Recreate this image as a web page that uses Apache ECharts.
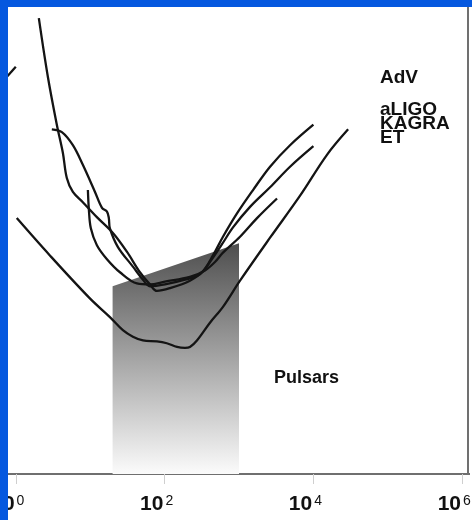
<!DOCTYPE html>
<html>
<head>
<meta charset="utf-8">
<script src="https://cdn.jsdelivr.net/npm/echarts@6/dist/echarts.min.js"></script>
<style>
  html, body { margin: 0; padding: 0; background: #ffffff; }
  #chart { width: 472px; height: 520px; }
</style>
</head>
<body>
<div id="chart"></div>
<script>
// Detector noise curves: frequency in Hz, strain as log10(h)
const advFreq   = [2.04, 2.70, 3.56, 4.29, 4.85, 5.85, 7.96, 12.3, 20.2, 31.1, 46.6, 63.5, 78.9, 118, 219, 328, 447, 609, 940, 1543, 2614, 4853, 10000];
const advLogH   = [-20.12, -20.75, -21.26, -21.56, -21.83, -21.98, -22.09, -22.25, -22.42, -22.62, -22.84, -22.97, -23.04, -23.01, -22.93, -22.83, -22.66, -22.46, -22.21, -21.96, -21.71, -21.48, -21.26];

const aligoFreq = [3.05, 4.16, 5.85, 7.96, 11.6, 14.4, 16.8, 17.8, 18.4, 23.6, 37.5, 51.2, 63.5, 101, 188, 299, 407, 591, 830, 1406, 2614, 4853, 10000];
const aligoLogH = [-21.31, -21.34, -21.48, -21.69, -21.98, -22.15, -22.19, -22.26, -22.37, -22.57, -22.78, -22.92, -22.99, -22.97, -22.92, -22.86, -22.73, -22.54, -22.36, -22.14, -21.93, -21.71, -21.49];

const kagraFreq = [9.31, 9.60, 10.2, 12.3, 16.8, 25.1, 42.5, 63.5, 101, 219, 349, 475, 609, 1032, 1747, 3245];
const kagraLogH = [-21.96, -22.17, -22.37, -22.55, -22.70, -22.84, -22.96, -22.97, -22.94, -22.89, -22.82, -22.73, -22.63, -22.46, -22.26, -22.05];

const etFreq    = [1.03, 2.87, 9.90, 18.4, 27.5, 37.5, 51.2, 78.9, 107, 147, 188, 219, 272, 407, 609, 1032, 2614, 6620, 15300, 29300];
const etLogH    = [-22.26, -22.66, -23.12, -23.32, -23.46, -23.53, -23.57, -23.58, -23.60, -23.64, -23.65, -23.64, -23.57, -23.38, -23.21, -22.93, -22.47, -22.02, -21.58, -21.31];

// Short low-frequency segment entering at the left edge
const edgeFreq  = [0.734, 1.0];
const edgeLogH  = [-20.76, -20.64];

// Upper bound of the known-pulsar region
const pulsarFreq = [20, 1000];
const pulsarLogH = [-22.99, -22.53];

// Frequency axis: decades from 10^-2 to 10^8, labelled every two decades
const freqMin = 0.01;
const freqMax = 1e8;
const decadeStep = 2;

const zip = (fs, hs) => fs.map((f, i) => [f, hs[i]]);

const chart = echarts.init(document.getElementById('chart'), null, { renderer: 'canvas' });

const curveStyle = { color: '#141414', width: 2.3 };
const curve = (name, fs, hs) => ({
  name: name,
  type: 'line',
  data: zip(fs, hs),
  symbol: 'none',
  smooth: 0.35,
  lineStyle: curveStyle,
  silent: true,
  z: 3
});

chart.setOption({
  animation: false,
  backgroundColor: '#ffffff',
  grid: { left: -133, right: -139, top: 7, bottom: 46, outerBoundsMode: 'none' },
  xAxis: {
    type: 'log',
    logBase: 10,
    min: freqMin,
    max: freqMax,
    interval: decadeStep,
    axisLine: { show: true, lineStyle: { color: '#6f6f6f', width: 2 } },
    axisTick: { show: true, length: 10, lineStyle: { color: '#cfcfcf', width: 1 } },
    splitLine: { show: false },
    minorTick: { show: false },
    axisLabel: {
      margin: 20,
      padding: [0, 16, 0, 0],
      formatter: function (v) {
        const e = Math.round(Math.log10(v));
        return '{b|10}{s|' + e + '}';
      },
      rich: {
        b: { fontFamily: 'Liberation Sans', fontWeight: 'bold', fontSize: 21, color: '#111', lineHeight: 36, verticalAlign: 'top' },
        s: { fontFamily: 'Liberation Sans', fontSize: 14, color: '#111', lineHeight: 10, verticalAlign: 'top', padding: [0, 0, 0, 2] }
      }
    }
  },
  yAxis: {
    type: 'value',
    min: -25,
    max: -20,
    show: false
  },
  series: [
    {
      name: 'Pulsars',
      type: 'line',
      data: zip(pulsarFreq, pulsarLogH),
      symbol: 'none',
      silent: true,
      lineStyle: { width: 0 },
      areaStyle: {
        origin: 'start',
        opacity: 1,
        color: new echarts.graphic.LinearGradient(0, 0, 0, 1, [
          { offset: 0, color: '#4e4e4e' },
          { offset: 1, color: '#fbfbfb' }
        ])
      },
      z: 1
    },
    curve('edge', edgeFreq, edgeLogH),
    curve('AdV', advFreq, advLogH),
    curve('aLIGO', aligoFreq, aligoLogH),
    curve('KAGRA', kagraFreq, kagraLogH),
    curve('ET', etFreq, etLogH)
  ],
  graphic: [
    { type: 'text', z: 10, style: { text: 'AdV',   x: 380, y: 78,  font: 'bold 19px "Liberation Sans"', fill: '#111', verticalAlign: 'middle' } },
    { type: 'text', z: 10, style: { text: 'aLIGO', x: 380, y: 110, font: 'bold 19px "Liberation Sans"', fill: '#111', verticalAlign: 'middle' } },
    { type: 'text', z: 10, style: { text: 'KAGRA', x: 380, y: 124, font: 'bold 19px "Liberation Sans"', fill: '#111', verticalAlign: 'middle' } },
    { type: 'text', z: 10, style: { text: 'ET',    x: 380, y: 138, font: 'bold 19px "Liberation Sans"', fill: '#111', verticalAlign: 'middle' } },
    { type: 'text', z: 10, style: { text: 'Pulsars', x: 274, y: 378, font: 'bold 18px "Liberation Sans"', fill: '#111', verticalAlign: 'middle' } },
    // plot frame on the right and the margin beyond it
    { type: 'rect', z: 20, shape: { x: 470, y: 7, width: 2, height: 475 }, style: { fill: '#ffffff' } },
    { type: 'line', z: 21, shape: { x1: 468, y1: 7, x2: 468, y2: 475 }, style: { stroke: '#707070', lineWidth: 2 } },
    // blue frame
    { type: 'rect', z: 30, shape: { x: 0, y: 0, width: 472, height: 7 }, style: { fill: '#0558df' } },
    { type: 'rect', z: 30, shape: { x: 0, y: 0, width: 8, height: 520 }, style: { fill: '#0558df' } }
  ]
});
</script>
</body>
</html>
